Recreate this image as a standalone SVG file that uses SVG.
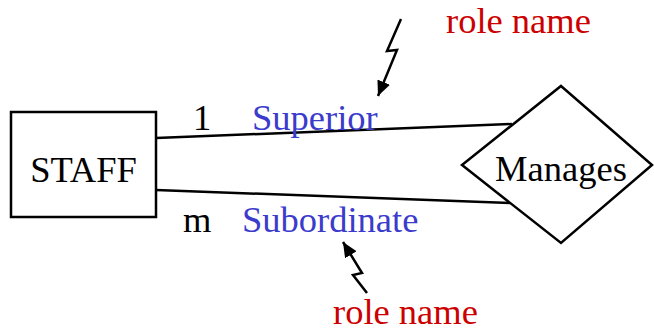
<svg xmlns="http://www.w3.org/2000/svg" width="654" height="331" viewBox="0 0 654 331">
<style>
text{font-family:"Liberation Serif","Times New Roman",serif;font-size:36.5px}
.lbl{fill:#000}
.role{fill:#cc0000}
.rn{fill:#3b3bcc}
.shape{fill:#fff;stroke:#000;stroke-width:2.5}
.ln{fill:none;stroke:#000;stroke-width:2.5}
</style>
<defs>
<marker id="ah" viewBox="0 0 10 10" refX="10" refY="5" markerWidth="6" markerHeight="6" orient="auto" markerUnits="strokeWidth">
<path d="M0,0.5 L10,5 L0,9.5 z" fill="#000"/>
</marker>
</defs>
<g id="connectors">
<path class="ln" d="M156,138 L512,124"/>
<path class="ln" d="M156,190 L510,203"/>
<path class="ln" d="M401,19 L387,51 L397,50 L378,96" marker-end="url(#ah)"/>
<path class="ln" d="M367,293 L353,275 L362,273 L343,242" marker-end="url(#ah)"/>
</g>
<g id="staff">
<rect class="shape" x="11" y="112" width="145" height="105"/>
<text class="lbl" x="83.5" y="182" text-anchor="middle">STAFF</text>
</g>
<g id="manages">
<polygon class="shape" points="561,86 652,165 561,243 462,165"/>
<text class="lbl" x="561" y="181" text-anchor="middle">Manages</text>
</g>
<g id="labels">
<text class="lbl" x="193" y="130">1</text>
<text class="rn" x="252" y="130">Superior</text>
<text class="lbl" x="183" y="232">m</text>
<text class="rn" x="242" y="232">Subordinate</text>
<text class="role" x="446" y="32.5">role name</text>
<text class="role" x="333" y="323.5">role name</text>
</g>
</svg>
